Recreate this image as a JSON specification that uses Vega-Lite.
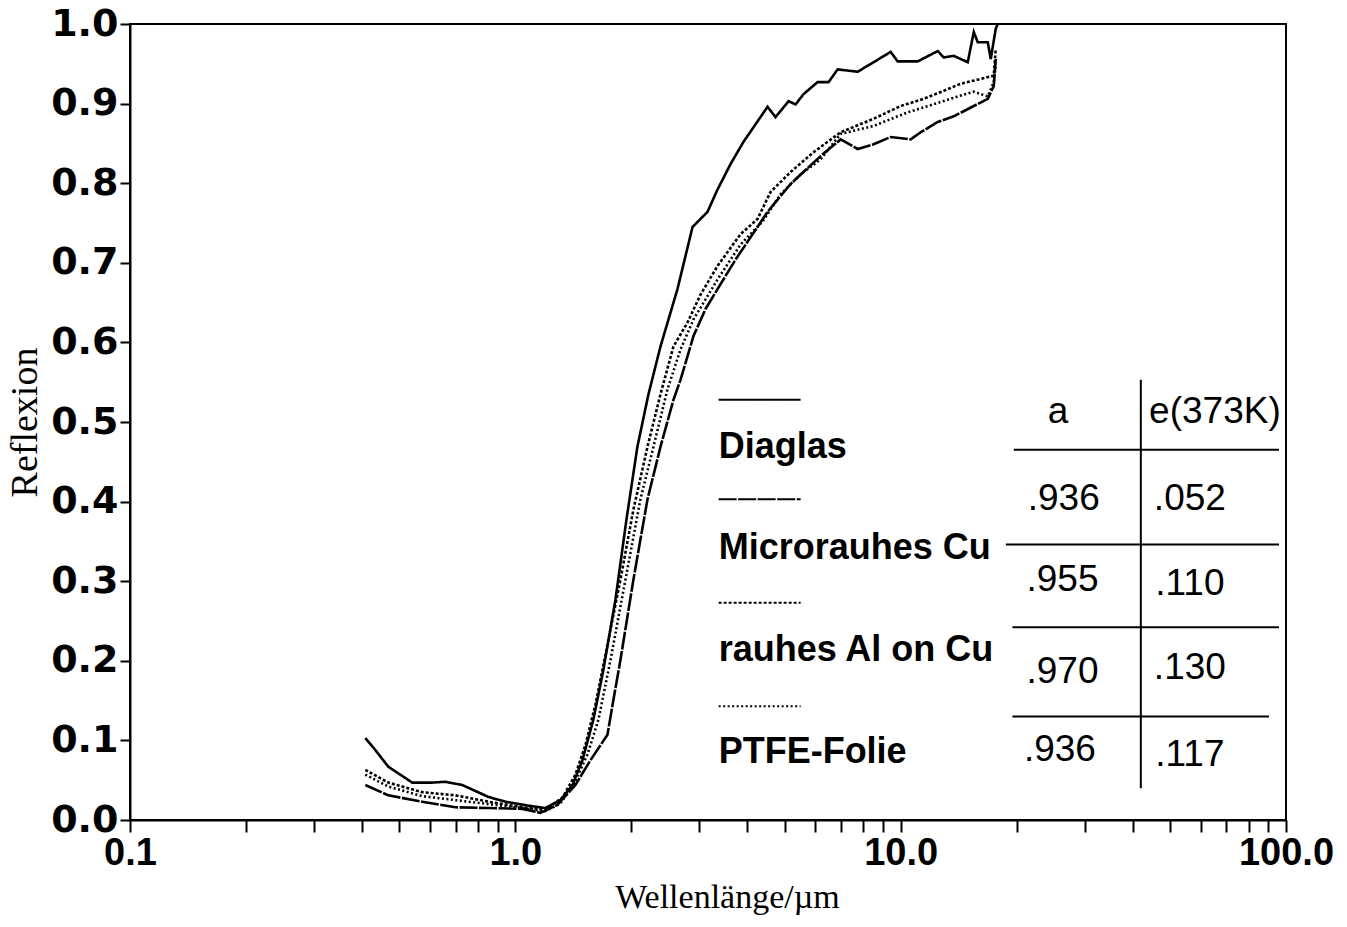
{
  "$schema": "https://vega.github.io/schema/vega-lite/v6.json",
  "width": 1156,
  "height": 796,
  "autosize": "none",
  "padding": {"left": 130, "top": 24, "right": 61, "bottom": 107},
  "background": "white",
  "config": {
    "view": {"stroke": "black", "strokeWidth": 2},
    "axis": {"grid": false, "domainColor": "black", "domainWidth": 2, "tickColor": "black", "tickWidth": 2, "labelColor": "black", "titleColor": "black"}
  },
  "datasets": {
    "curves": [
      {"wl": 0.408, "r": 0.103, "s": "Diaglas"}, {"wl": 0.433, "r": 0.088, "s": "Diaglas"}, {"wl": 0.468, "r": 0.067, "s": "Diaglas"}, {"wl": 0.540, "r": 0.047, "s": "Diaglas"}, {"wl": 0.609, "r": 0.047, "s": "Diaglas"}, {"wl": 0.658, "r": 0.048, "s": "Diaglas"}, {"wl": 0.728, "r": 0.044, "s": "Diaglas"}, {"wl": 0.851, "r": 0.029, "s": "Diaglas"}, {"wl": 0.942, "r": 0.023, "s": "Diaglas"}, {"wl": 1.081, "r": 0.018, "s": "Diaglas"}, {"wl": 1.196, "r": 0.015, "s": "Diaglas"}, {"wl": 1.309, "r": 0.025, "s": "Diaglas"}, {"wl": 1.407, "r": 0.044, "s": "Diaglas"}, {"wl": 1.493, "r": 0.075, "s": "Diaglas"}, {"wl": 1.594, "r": 0.126, "s": "Diaglas"}, {"wl": 1.693, "r": 0.189, "s": "Diaglas"}, {"wl": 1.819, "r": 0.277, "s": "Diaglas"}, {"wl": 1.942, "r": 0.377, "s": "Diaglas"}, {"wl": 2.074, "r": 0.469, "s": "Diaglas"}, {"wl": 2.216, "r": 0.535, "s": "Diaglas"}, {"wl": 2.381, "r": 0.595, "s": "Diaglas"}, {"wl": 2.635, "r": 0.667, "s": "Diaglas"}, {"wl": 2.883, "r": 0.745, "s": "Diaglas"}, {"wl": 3.153, "r": 0.764, "s": "Diaglas"}, {"wl": 3.347, "r": 0.792, "s": "Diaglas"}, {"wl": 3.618, "r": 0.824, "s": "Diaglas"}, {"wl": 3.910, "r": 0.852, "s": "Diaglas"}, {"wl": 4.201, "r": 0.874, "s": "Diaglas"}, {"wl": 4.514, "r": 0.896, "s": "Diaglas"}, {"wl": 4.734, "r": 0.883, "s": "Diaglas"}, {"wl": 5.118, "r": 0.903, "s": "Diaglas"}, {"wl": 5.337, "r": 0.899, "s": "Diaglas"}, {"wl": 5.599, "r": 0.912, "s": "Diaglas"}, {"wl": 6.087, "r": 0.927, "s": "Diaglas"}, {"wl": 6.501, "r": 0.927, "s": "Diaglas"}, {"wl": 6.861, "r": 0.943, "s": "Diaglas"}, {"wl": 7.731, "r": 0.940, "s": "Diaglas"}, {"wl": 8.511, "r": 0.952, "s": "Diaglas"}, {"wl": 9.419, "r": 0.965, "s": "Diaglas"}, {"wl": 9.822, "r": 0.953, "s": "Diaglas"}, {"wl": 11.07, "r": 0.953, "s": "Diaglas"}, {"wl": 12.48, "r": 0.966, "s": "Diaglas"}, {"wl": 12.93, "r": 0.958, "s": "Diaglas"}, {"wl": 13.73, "r": 0.960, "s": "Diaglas"}, {"wl": 14.93, "r": 0.952, "s": "Diaglas"}, {"wl": 15.48, "r": 0.990, "s": "Diaglas"}, {"wl": 15.85, "r": 0.977, "s": "Diaglas"}, {"wl": 16.83, "r": 0.977, "s": "Diaglas"}, {"wl": 17.13, "r": 0.956, "s": "Diaglas"}, {"wl": 17.65, "r": 0.994, "s": "Diaglas"}, {"wl": 17.86, "r": 1.0, "s": "Diaglas"},

      {"wl": 0.408, "r": 0.044, "s": "Microrauhes Cu"}, {"wl": 0.468, "r": 0.031, "s": "Microrauhes Cu"}, {"wl": 0.573, "r": 0.023, "s": "Microrauhes Cu"}, {"wl": 0.699, "r": 0.016, "s": "Microrauhes Cu"}, {"wl": 0.851, "r": 0.015, "s": "Microrauhes Cu"}, {"wl": 1.043, "r": 0.014, "s": "Microrauhes Cu"}, {"wl": 1.161, "r": 0.009, "s": "Microrauhes Cu"}, {"wl": 1.285, "r": 0.019, "s": "Microrauhes Cu"}, {"wl": 1.432, "r": 0.044, "s": "Microrauhes Cu"}, {"wl": 1.566, "r": 0.075, "s": "Microrauhes Cu"}, {"wl": 1.663, "r": 0.094, "s": "Microrauhes Cu"}, {"wl": 1.734, "r": 0.107, "s": "Microrauhes Cu"}, {"wl": 1.797, "r": 0.151, "s": "Microrauhes Cu"}, {"wl": 1.874, "r": 0.201, "s": "Microrauhes Cu"}, {"wl": 2.025, "r": 0.302, "s": "Microrauhes Cu"}, {"wl": 2.203, "r": 0.403, "s": "Microrauhes Cu"}, {"wl": 2.381, "r": 0.469, "s": "Microrauhes Cu"}, {"wl": 2.573, "r": 0.528, "s": "Microrauhes Cu"}, {"wl": 2.683, "r": 0.553, "s": "Microrauhes Cu"}, {"wl": 2.900, "r": 0.608, "s": "Microrauhes Cu"}, {"wl": 3.116, "r": 0.642, "s": "Microrauhes Cu"}, {"wl": 3.347, "r": 0.667, "s": "Microrauhes Cu"}, {"wl": 3.728, "r": 0.704, "s": "Microrauhes Cu"}, {"wl": 4.077, "r": 0.732, "s": "Microrauhes Cu"}, {"wl": 4.514, "r": 0.764, "s": "Microrauhes Cu"}, {"wl": 5.180, "r": 0.799, "s": "Microrauhes Cu"}, {"wl": 6.197, "r": 0.834, "s": "Microrauhes Cu"}, {"wl": 6.986, "r": 0.855, "s": "Microrauhes Cu"}, {"wl": 7.731, "r": 0.843, "s": "Microrauhes Cu"}, {"wl": 8.511, "r": 0.849, "s": "Microrauhes Cu"}, {"wl": 9.419, "r": 0.858, "s": "Microrauhes Cu"}, {"wl": 10.62, "r": 0.855, "s": "Microrauhes Cu"}, {"wl": 11.27, "r": 0.864, "s": "Microrauhes Cu"}, {"wl": 12.48, "r": 0.877, "s": "Microrauhes Cu"}, {"wl": 13.73, "r": 0.884, "s": "Microrauhes Cu"}, {"wl": 15.48, "r": 0.897, "s": "Microrauhes Cu"}, {"wl": 16.83, "r": 0.906, "s": "Microrauhes Cu"}, {"wl": 17.44, "r": 0.922, "s": "Microrauhes Cu"}, {"wl": 17.65, "r": 0.956, "s": "Microrauhes Cu"},

      {"wl": 0.408, "r": 0.063, "s": "rauhes Al on Cu"}, {"wl": 0.468, "r": 0.047, "s": "rauhes Al on Cu"}, {"wl": 0.573, "r": 0.035, "s": "rauhes Al on Cu"}, {"wl": 0.699, "r": 0.031, "s": "rauhes Al on Cu"}, {"wl": 0.851, "r": 0.023, "s": "rauhes Al on Cu"}, {"wl": 1.043, "r": 0.016, "s": "rauhes Al on Cu"}, {"wl": 1.196, "r": 0.013, "s": "rauhes Al on Cu"}, {"wl": 1.325, "r": 0.028, "s": "rauhes Al on Cu"}, {"wl": 1.432, "r": 0.057, "s": "rauhes Al on Cu"}, {"wl": 1.520, "r": 0.094, "s": "rauhes Al on Cu"}, {"wl": 1.614, "r": 0.145, "s": "rauhes Al on Cu"}, {"wl": 1.724, "r": 0.214, "s": "rauhes Al on Cu"}, {"wl": 1.874, "r": 0.302, "s": "rauhes Al on Cu"}, {"wl": 2.025, "r": 0.390, "s": "rauhes Al on Cu"}, {"wl": 2.203, "r": 0.469, "s": "rauhes Al on Cu"}, {"wl": 2.381, "r": 0.535, "s": "rauhes Al on Cu"}, {"wl": 2.573, "r": 0.595, "s": "rauhes Al on Cu"}, {"wl": 2.798, "r": 0.625, "s": "rauhes Al on Cu"}, {"wl": 3.024, "r": 0.660, "s": "rauhes Al on Cu"}, {"wl": 3.347, "r": 0.696, "s": "rauhes Al on Cu"}, {"wl": 3.841, "r": 0.736, "s": "rauhes Al on Cu"}, {"wl": 4.252, "r": 0.755, "s": "rauhes Al on Cu"}, {"wl": 4.595, "r": 0.789, "s": "rauhes Al on Cu"}, {"wl": 5.180, "r": 0.814, "s": "rauhes Al on Cu"}, {"wl": 5.943, "r": 0.839, "s": "rauhes Al on Cu"}, {"wl": 6.986, "r": 0.864, "s": "rauhes Al on Cu"}, {"wl": 8.511, "r": 0.881, "s": "rauhes Al on Cu"}, {"wl": 10.0, "r": 0.897, "s": "rauhes Al on Cu"}, {"wl": 11.47, "r": 0.906, "s": "rauhes Al on Cu"}, {"wl": 12.93, "r": 0.916, "s": "rauhes Al on Cu"}, {"wl": 14.32, "r": 0.925, "s": "rauhes Al on Cu"}, {"wl": 16.14, "r": 0.931, "s": "rauhes Al on Cu"}, {"wl": 17.44, "r": 0.935, "s": "rauhes Al on Cu"}, {"wl": 17.65, "r": 0.969, "s": "rauhes Al on Cu"},

      {"wl": 0.408, "r": 0.057, "s": "PTFE-Folie"}, {"wl": 0.468, "r": 0.042, "s": "PTFE-Folie"}, {"wl": 0.573, "r": 0.030, "s": "PTFE-Folie"}, {"wl": 0.699, "r": 0.025, "s": "PTFE-Folie"}, {"wl": 0.851, "r": 0.020, "s": "PTFE-Folie"}, {"wl": 1.043, "r": 0.015, "s": "PTFE-Folie"}, {"wl": 1.196, "r": 0.011, "s": "PTFE-Folie"}, {"wl": 1.309, "r": 0.021, "s": "PTFE-Folie"}, {"wl": 1.415, "r": 0.044, "s": "PTFE-Folie"}, {"wl": 1.538, "r": 0.082, "s": "PTFE-Folie"}, {"wl": 1.643, "r": 0.126, "s": "PTFE-Folie"}, {"wl": 1.766, "r": 0.201, "s": "PTFE-Folie"}, {"wl": 1.931, "r": 0.302, "s": "PTFE-Folie"}, {"wl": 2.112, "r": 0.403, "s": "PTFE-Folie"}, {"wl": 2.283, "r": 0.469, "s": "PTFE-Folie"}, {"wl": 2.482, "r": 0.541, "s": "PTFE-Folie"}, {"wl": 2.683, "r": 0.591, "s": "PTFE-Folie"}, {"wl": 2.900, "r": 0.629, "s": "PTFE-Folie"}, {"wl": 3.116, "r": 0.654, "s": "PTFE-Folie"}, {"wl": 3.347, "r": 0.679, "s": "PTFE-Folie"}, {"wl": 3.841, "r": 0.723, "s": "PTFE-Folie"}, {"wl": 4.381, "r": 0.752, "s": "PTFE-Folie"}, {"wl": 4.878, "r": 0.786, "s": "PTFE-Folie"}, {"wl": 5.500, "r": 0.811, "s": "PTFE-Folie"}, {"wl": 6.197, "r": 0.830, "s": "PTFE-Folie"}, {"wl": 6.986, "r": 0.862, "s": "PTFE-Folie"}, {"wl": 8.511, "r": 0.872, "s": "PTFE-Folie"}, {"wl": 10.43, "r": 0.889, "s": "PTFE-Folie"}, {"wl": 12.70, "r": 0.902, "s": "PTFE-Folie"}, {"wl": 14.07, "r": 0.909, "s": "PTFE-Folie"}, {"wl": 15.48, "r": 0.915, "s": "PTFE-Folie"}, {"wl": 16.83, "r": 0.909, "s": "PTFE-Folie"}, {"wl": 17.44, "r": 0.927, "s": "PTFE-Folie"}, {"wl": 17.65, "r": 0.950, "s": "PTFE-Folie"}
    ],
    "keys": [
      {"s": "Diaglas", "x1": 3.37, "x2": 5.5, "y": 0.528},
      {"s": "Microrauhes Cu", "x1": 3.37, "x2": 5.5, "y": 0.403},
      {"s": "rauhes Al on Cu", "x1": 3.37, "x2": 5.5, "y": 0.273},
      {"s": "PTFE-Folie", "x1": 3.37, "x2": 5.5, "y": 0.143}
    ],
    "labels": [
      {"t": "Diaglas", "x": 3.37, "y": 0.469},
      {"t": "Microrauhes Cu", "x": 3.37, "y": 0.342},
      {"t": "rauhes Al on Cu", "x": 3.37, "y": 0.213},
      {"t": "PTFE-Folie", "x": 3.37, "y": 0.086}
    ],
    "table": [
      {"t": "a", "x": 25.6, "y": 0.512},
      {"t": "e(373K)", "x": 65.4, "y": 0.512},
      {"t": ".936", "x": 26.5, "y": 0.403},
      {"t": ".052", "x": 56.3, "y": 0.403},
      {"t": ".955", "x": 26.3, "y": 0.302},
      {"t": ".110", "x": 56.3, "y": 0.296},
      {"t": ".970", "x": 26.3, "y": 0.186},
      {"t": ".130", "x": 56.3, "y": 0.191},
      {"t": ".936", "x": 25.9, "y": 0.088},
      {"t": ".117", "x": 56.3, "y": 0.082}
    ],
    "rules": [
      {"x1": 19.66, "x2": 95.9, "y1": 0.465, "y2": 0.465},
      {"x1": 18.75, "x2": 95.9, "y1": 0.346, "y2": 0.346},
      {"x1": 19.5, "x2": 95.9, "y1": 0.242, "y2": 0.242},
      {"x1": 19.5, "x2": 90.3, "y1": 0.130, "y2": 0.130},
      {"x1": 42.0, "x2": 42.0, "y1": 0.553, "y2": 0.040}
    ]
  },
  "layer": [
    {
      "data": {"name": "curves"},
      "mark": {"type": "line", "color": "black", "strokeWidth": 2.6},
      "encoding": {
        "x": {
          "field": "wl", "type": "quantitative",
          "scale": {"type": "log", "domain": [0.1, 100], "nice": false},
          "axis": {
            "title": "Wellenlänge/µm",
            "titleFont": "Liberation Serif", "titleFontSize": 34, "titleFontWeight": "normal", "titlePadding": 8, "titleX": 597,
            "labelFont": "Liberation Sans", "labelFontSize": 38, "labelFontWeight": "bold",
            "values": [0.1, 0.2, 0.3, 0.4, 0.5, 0.6, 0.7, 0.8, 0.9, 1, 2, 3, 4, 5, 6, 7, 8, 9, 10, 20, 30, 40, 50, 60, 70, 80, 90, 100],
            "labelExpr": "indexof([0.1, 1, 10, 100], datum.value) >= 0 ? format(datum.value, '.1f') : ''",
            "labelOverlap": false, "labelFlush": false, "tickSize": 12, "labelPadding": 2
          }
        },
        "y": {
          "field": "r", "type": "quantitative",
          "scale": {"domain": [0, 1], "nice": false},
          "axis": {
            "title": "Reflexion",
            "titleFont": "Liberation Serif", "titleFontSize": 38, "titleFontWeight": "normal", "titlePadding": 6,
            "labelFont": "DejaVu Sans", "labelFontSize": 38, "labelFontWeight": "bold",
            "values": [0, 0.1, 0.2, 0.3, 0.4, 0.5, 0.6, 0.7, 0.8, 0.9, 1],
            "format": ".1f", "tickSize": 10, "labelPadding": 2, "labelOverlap": false, "labelFlush": false
          }
        },
        "detail": {"field": "s"},
        "strokeDash": {
          "field": "s", "type": "nominal", "legend": null,
          "scale": {"domain": ["Diaglas", "Microrauhes Cu", "rauhes Al on Cu", "PTFE-Folie"], "range": [[1, 0], [18, 1.5], [3, 2], [2, 2.5]]}
        }
      }
    },
    {
      "data": {"name": "keys"},
      "mark": {"type": "rule", "color": "black", "strokeWidth": 2},
      "encoding": {
        "x": {"field": "x1", "type": "quantitative"},
        "x2": {"field": "x2"},
        "y": {"field": "y", "type": "quantitative"},
        "strokeDash": {"field": "s", "type": "nominal", "legend": null}
      }
    },
    {
      "data": {"name": "labels"},
      "mark": {"type": "text", "align": "left", "baseline": "middle", "font": "Liberation Sans", "fontWeight": "bold", "fontSize": 36, "color": "black"},
      "encoding": {
        "x": {"field": "x", "type": "quantitative"},
        "y": {"field": "y", "type": "quantitative"},
        "text": {"field": "t"}
      }
    },
    {
      "data": {"name": "table"},
      "mark": {"type": "text", "align": "center", "baseline": "middle", "font": "Liberation Sans", "fontSize": 37, "color": "black"},
      "encoding": {
        "x": {"field": "x", "type": "quantitative"},
        "y": {"field": "y", "type": "quantitative"},
        "text": {"field": "t"}
      }
    },
    {
      "data": {"name": "rules"},
      "mark": {"type": "rule", "color": "black", "strokeWidth": 2},
      "encoding": {
        "x": {"field": "x1", "type": "quantitative"},
        "x2": {"field": "x2"},
        "y": {"field": "y1", "type": "quantitative"},
        "y2": {"field": "y2"}
      }
    }
  ]
}
